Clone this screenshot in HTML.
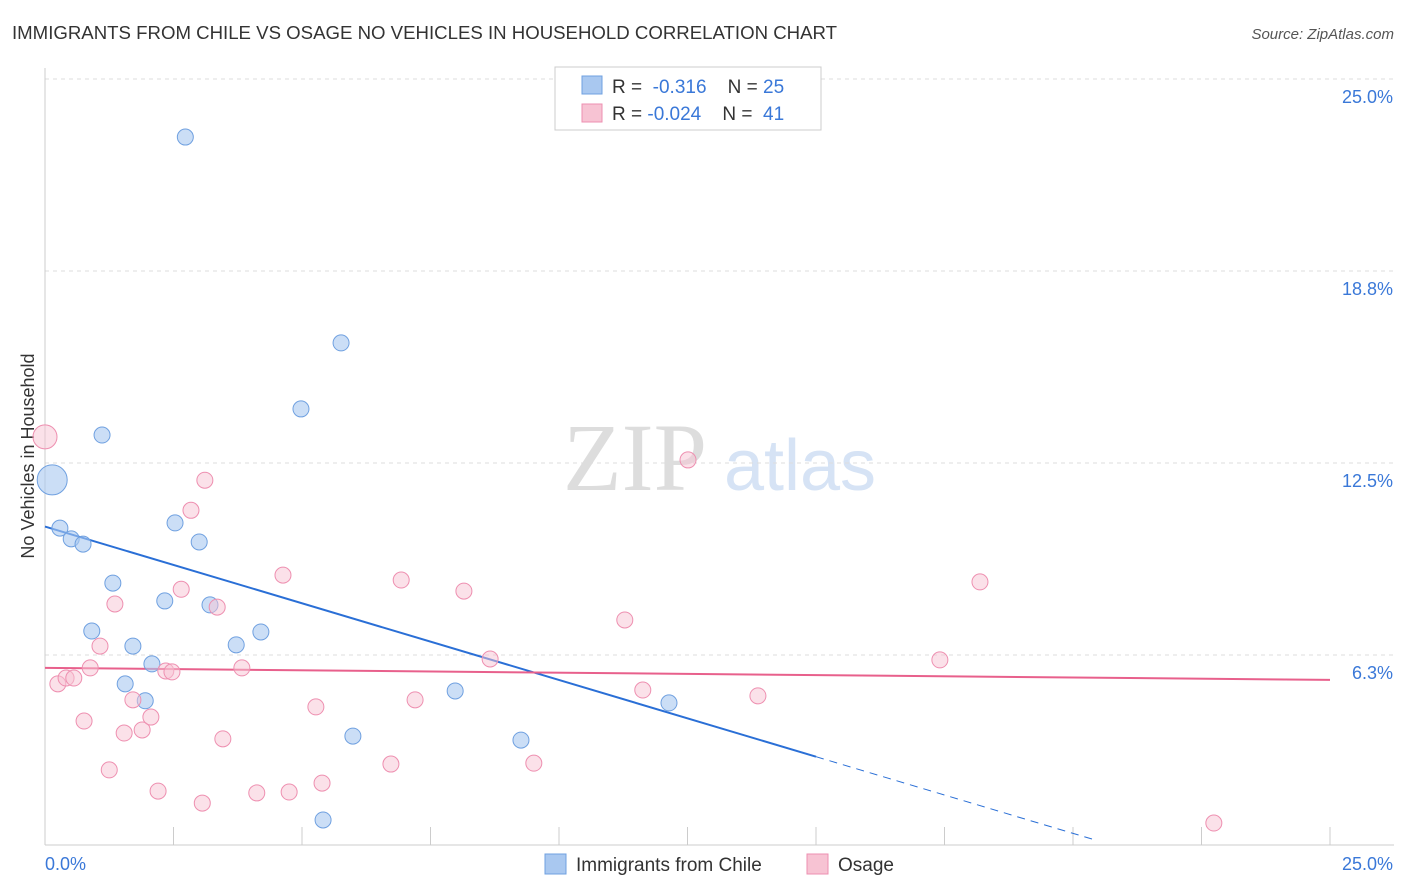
<!DOCTYPE html>
<html><head><meta charset="utf-8"><style>
body{margin:0;background:#fff;font-family:"Liberation Sans",sans-serif}
svg{display:block}
</style></head><body>
<svg id="c" width="1406" height="892" xmlns="http://www.w3.org/2000/svg">
<text x="12" y="39" font-size="18" fill="#333" textLength="825" lengthAdjust="spacingAndGlyphs">IMMIGRANTS FROM CHILE VS OSAGE NO VEHICLES IN HOUSEHOLD CORRELATION CHART</text>
<text x="1394" y="39" font-size="15" fill="#555" font-style="italic" text-anchor="end">Source: ZipAtlas.com</text>
<text x="34" y="456" font-size="18" fill="#333" text-anchor="middle" transform="rotate(-90 34 456)">No Vehicles in Household</text>
<g><text x="635" y="490" font-size="96" fill="#ddd" font-family="Liberation Serif,serif" text-anchor="middle">ZIP</text><text x="800" y="490" font-size="72" fill="#d6e3f5" text-anchor="middle">atlas</text></g>
<g id="grid"></g><g id="axes"></g><g id="lines"></g><g id="pts"></g>
<g>
<rect x="555" y="67" width="266" height="63" fill="#fff" stroke="#ccc"/>
<rect x="582" y="76" width="20" height="18" fill="#a9c8f0" stroke="#6fa0e0"/>
<rect x="582" y="104" width="20" height="18" fill="#f7c3d3" stroke="#ee8fb0"/>
<text x="612" y="93" font-size="19" fill="#333">R = <tspan fill="#3a78d8">&#160;-0.316</tspan>&#160;&#160;&#160; N = <tspan fill="#3a78d8">25</tspan></text>
<text x="612" y="120" font-size="19" fill="#333">R = <tspan fill="#3a78d8">-0.024</tspan>&#160;&#160;&#160; N = <tspan fill="#3a78d8">&#160;41</tspan></text>
</g>
<g>
<rect x="545" y="854" width="21" height="20" fill="#a9c8f0" stroke="#6fa0e0"/>
<text x="576" y="871" font-size="19" fill="#333">Immigrants from Chile</text>
<rect x="807" y="854" width="21" height="20" fill="#f7c3d3" stroke="#ee8fb0"/>
<text x="838" y="871" font-size="19" fill="#333">Osage</text>
</g>
</svg>
<script>
const xTickLabels=["0.0%","25.0%"];
const yTicks=[6.25,12.5,18.75,25];
const yTickLabels=["6.3%","12.5%","18.8%","25.0%"];
const chileX=[2.73,5.76,4.98,1.11,0.14,0.29,0.51,0.74,2.53,3.0,1.32,2.33,3.21,0.91,1.71,3.72,4.2,2.08,1.56,1.95,7.98,12.14,5.99,9.26,5.41];
const chileY=[23.11,16.41,14.26,13.41,11.95,10.38,10.03,9.86,10.55,9.93,8.59,8.01,7.88,7.03,6.54,6.58,7.0,5.96,5.31,4.76,5.08,4.69,3.61,3.48,0.88];
const chileR=[8,8,8,8,15,8,8,8,8,8,8,8,8,8,8,8,8,8,8,8,8,8,8,8,8];
const osageX=[0,0.25,0.41,0.56,0.88,1.07,1.36,0.76,1.25,1.54,1.71,1.89,2.06,2.2,2.35,2.47,2.65,2.84,3.11,3.35,3.06,3.46,3.83,4.12,4.63,4.75,5.27,5.39,6.73,6.93,7.2,8.15,8.66,9.51,11.28,11.63,12.51,13.87,17.41,18.19,22.74];
const osageY=[13.35,5.31,5.5,5.5,5.83,6.54,7.91,4.1,2.51,3.71,4.79,3.81,4.23,1.82,5.73,5.7,8.39,10.96,11.94,7.81,1.43,3.52,5.83,1.76,8.85,1.79,4.56,2.08,2.7,8.69,4.79,8.33,6.12,2.73,7.39,5.11,12.6,4.92,6.09,8.63,0.78];
const osageR=[12,8,8,8,8,8,8,8,8,8,8,8,8,8,8,8,8,8,8,8,8,8,8,8,8,8,8,8,8,8,8,8,8,8,8,8,8,8,8,8,8];
const chileTrend=[[0,10.43],[15,2.94],[20.43,0.23]];
const osageTrend=[[0,5.83],[25,5.44]];
const NS="http://www.w3.org/2000/svg";
const sx=v=>45+v/25*1285, sy=v=>847-v/25*768;
function mk(t,a,p){const e=document.createElementNS(NS,t);for(const k in a)e.setAttribute(k,a[k]);p.appendChild(e);return e;}
const grid=document.getElementById('grid'),axes=document.getElementById('axes'),lines=document.getElementById('lines'),pts=document.getElementById('pts');
yTicks.forEach((v,i)=>{
 const l=mk('line',{x1:45,x2:1394,y1:sy(v),y2:sy(v),stroke:'#ddd','stroke-dasharray':'4,4'},grid);
 
 
 const t=mk('text',{x:1393,y:sy(v)+24,'font-size':18,fill:'#3a78d8','text-anchor':'end'},axes);
 t.textContent=yTickLabels[i];
 
 
});
const ax=mk('line',{x1:45,x2:1394,y1:845,y2:845,stroke:'#ccc'},axes);


const ay=mk('line',{x1:45,x2:45,y1:68,y2:845,stroke:'#ccc'},axes);


for(let i=0;i<=10;i++){const tk=mk('line',{x1:sx(i*2.5),x2:sx(i*2.5),y1:827,y2:845,stroke:'#ccc'},axes);
 
 }
const xl0=mk('text',{x:45,y:870,'font-size':18,fill:'#3a78d8'},axes);xl0.textContent=xTickLabels[0];


const xl1=mk('text',{x:1393,y:870,'font-size':18,fill:'#3a78d8','text-anchor':'end'},axes);xl1.textContent=xTickLabels[1];


chileX.forEach((x,i)=>{const c=mk('circle',{cx:sx(x),cy:sy(chileY[i]),r:chileR[i],fill:'#a9c8f0','fill-opacity':0.6,stroke:'#6fa0e0'},pts);
 
 });
osageX.forEach((x,i)=>{const c=mk('circle',{cx:sx(x),cy:sy(osageY[i]),r:osageR[i],fill:'#f7c3d3','fill-opacity':0.5,stroke:'#ee8fb0'},pts);
 
 });
const bl=mk('line',{x1:sx(chileTrend[0][0]),y1:sy(chileTrend[0][1]),x2:sx(chileTrend[1][0]),y2:sy(chileTrend[1][1]),stroke:'#2a6fd6','stroke-width':2},lines);


const bd=mk('line',{x1:sx(chileTrend[1][0]),y1:sy(chileTrend[1][1]),x2:sx(chileTrend[2][0]),y2:sy(chileTrend[2][1]),stroke:'#2a6fd6','stroke-width':1,'stroke-dasharray':'8,6'},lines);


const pl=mk('line',{x1:sx(osageTrend[0][0]),y1:sy(osageTrend[0][1]),x2:sx(osageTrend[1][0]),y2:sy(osageTrend[1][1]),stroke:'#e8608c','stroke-width':2},lines);


</script>
</body></html>
